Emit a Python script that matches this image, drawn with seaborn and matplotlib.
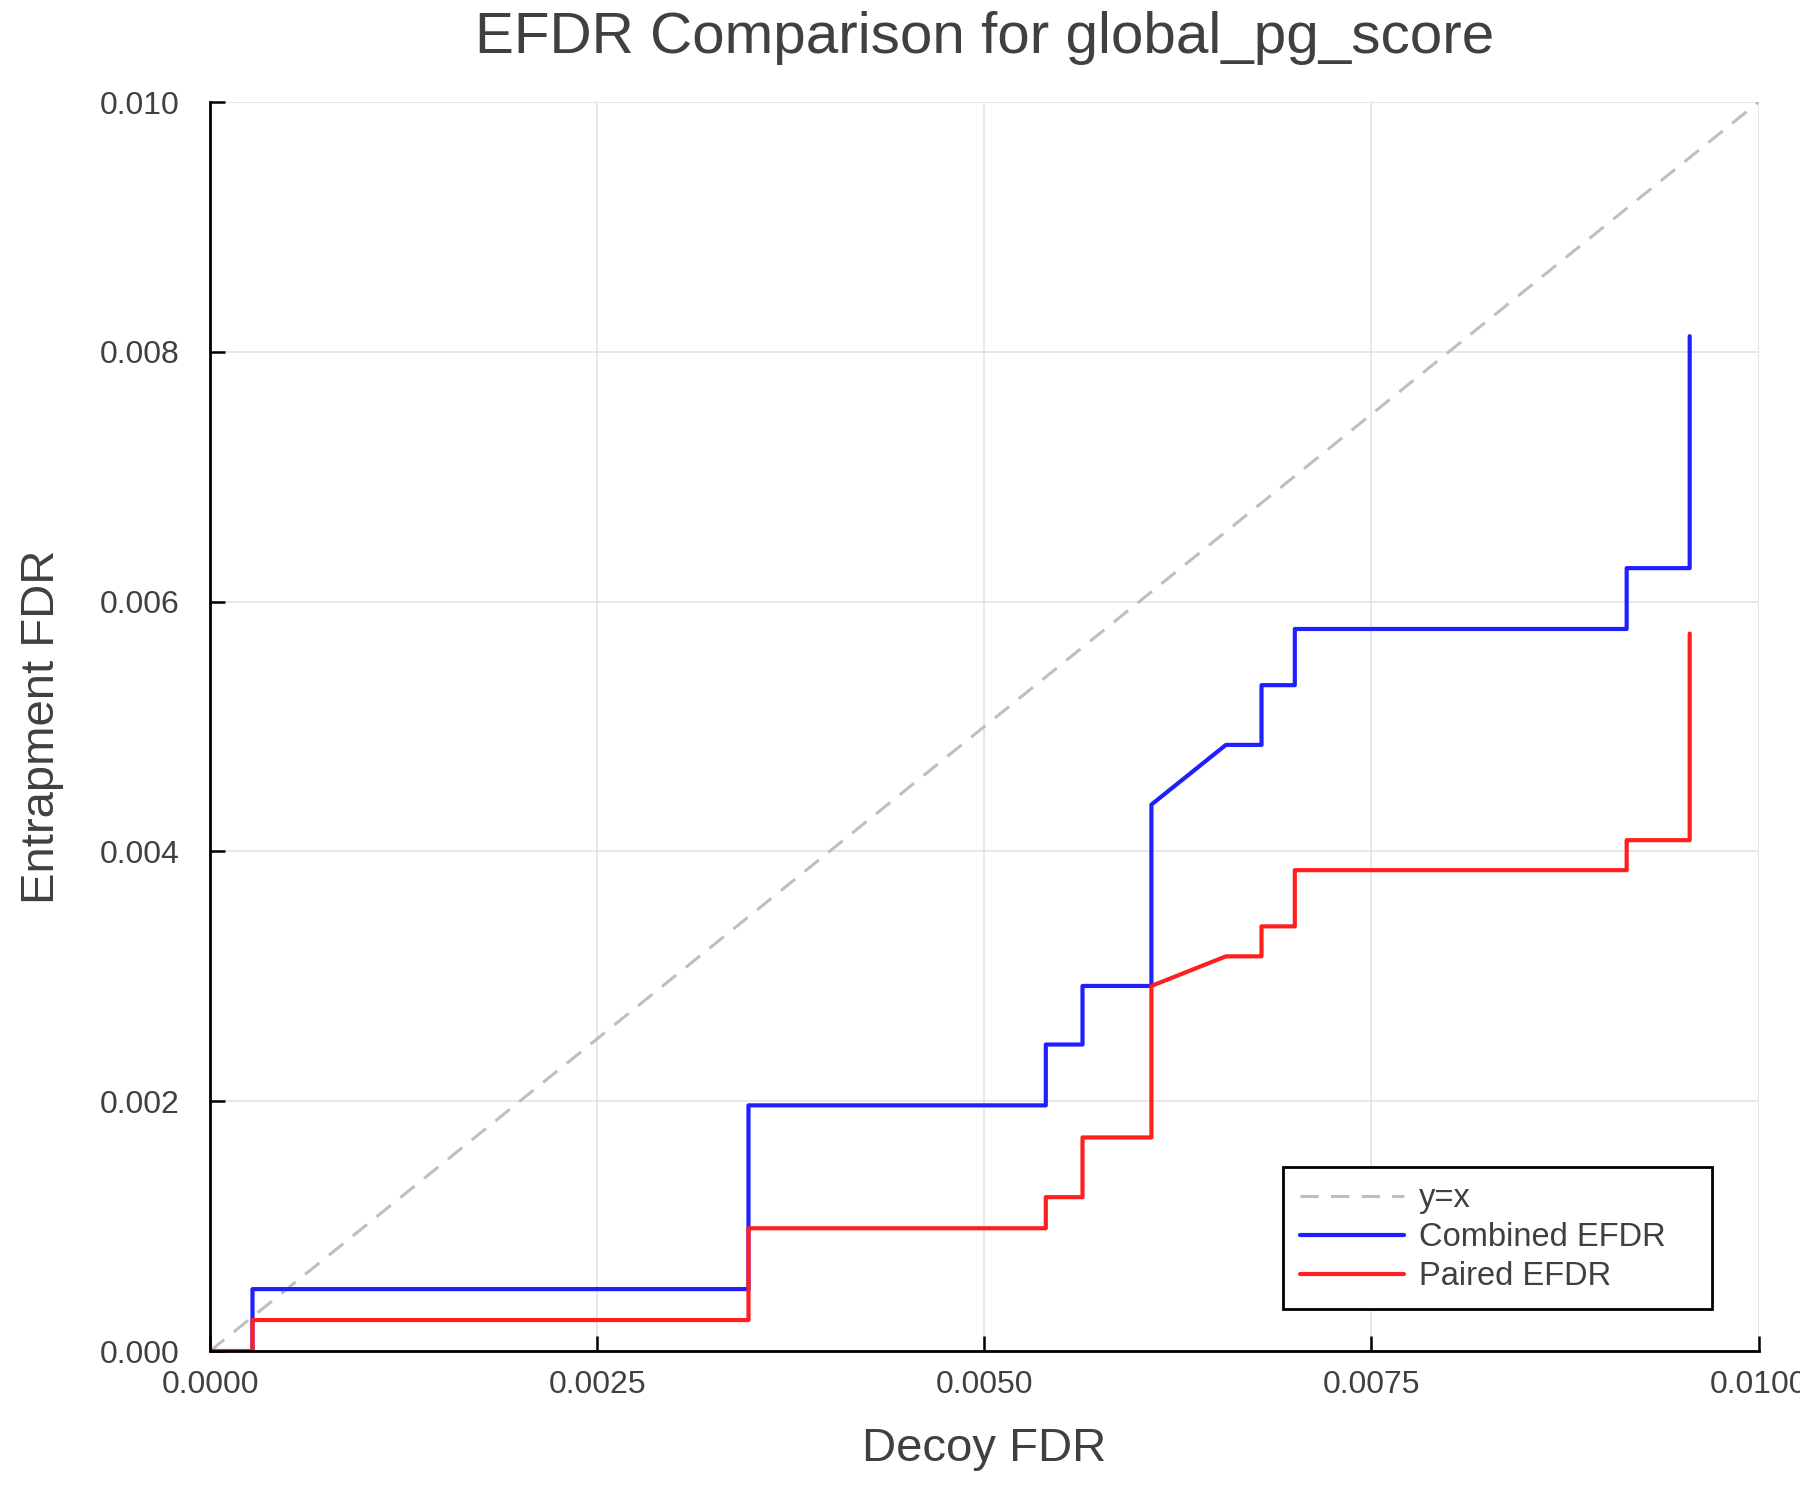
import matplotlib
matplotlib.use("Agg")
import matplotlib.pyplot as plt
import seaborn as sns
import pandas as pd
from matplotlib.ticker import FormatStrFormatter, FixedLocator

# ---- data ----
combined_x = [0.0, 0.000274, 0.000274, 0.003477, 0.003477, 0.005397, 0.005397,
              0.005634, 0.005634, 0.006079, 0.006079, 0.00656, 0.00679, 0.00679,
              0.007005, 0.007005, 0.009148, 0.009148, 0.009555, 0.009555]
combined_y = [0.0, 0.0, 0.000496, 0.000496, 0.001967, 0.001967, 0.002454,
              0.002454, 0.002923, 0.002923, 0.004375, 0.004853, 0.004853, 0.005331,
              0.005331, 0.005781, 0.005781, 0.006268, 0.006268, 0.008125]

paired_x = [0.0, 0.000274, 0.000274, 0.003477, 0.003477, 0.005397, 0.005397,
            0.005634, 0.005634, 0.006079, 0.006079, 0.00656, 0.00679, 0.00679,
            0.007005, 0.007005, 0.009148, 0.009148, 0.009555, 0.009555]
paired_y = [0.0, 0.0, 0.000248, 0.000248, 0.000983, 0.000983, 0.001232,
            0.001232, 0.00171, 0.00171, 0.002923, 0.00316, 0.00316, 0.0034,
            0.0034, 0.00385, 0.00385, 0.00409, 0.00409, 0.005744]

diag_x = [0.0, 0.01]
diag_y = [0.0, 0.01]

x_ticks = [0.0, 0.0025, 0.005, 0.0075, 0.01]
y_ticks = [0.0, 0.002, 0.004, 0.006, 0.008, 0.010]

title = "EFDR Comparison for global_pg_score"
xlabel = "Decoy FDR"
ylabel = "Entrapment FDR"

# ---- style ----
sns.set_theme(style="white")
plt.rcParams["font.family"] = ["Liberation Sans", "DejaVu Sans"]
TXT = "#404040"

fig = plt.figure(figsize=(18, 15), dpi=100)
ax = fig.add_axes([0.1167, 0.0993, 0.8603, 0.8327])

df_c = pd.DataFrame({"x": combined_x, "y": combined_y})
df_p = pd.DataFrame({"x": paired_x, "y": paired_y})
df_d = pd.DataFrame({"x": diag_x, "y": diag_y})

sns.lineplot(data=df_d, x="x", y="y", ax=ax, color="#bfbfbf", linewidth=2.2,
             linestyle=(0, (6, 4)), sort=False, estimator=None, label="y=x")
sns.lineplot(data=df_c, x="x", y="y", ax=ax, color="#1f1fff", linewidth=3.0,
             sort=False, estimator=None, label="Combined EFDR")
sns.lineplot(data=df_p, x="x", y="y", ax=ax, color="#ff1f1f", linewidth=3.0,
             sort=False, estimator=None, label="Paired EFDR")

ax.set_xlim(0, 0.01)
ax.set_ylim(0, 0.01)
ax.xaxis.set_major_locator(FixedLocator(x_ticks))
ax.yaxis.set_major_locator(FixedLocator(y_ticks))
ax.xaxis.set_major_formatter(FormatStrFormatter("%.4f"))
ax.yaxis.set_major_formatter(FormatStrFormatter("%.3f"))

ax.grid(True, color="#e4e4e4", lw=1.2)
ax.set_axisbelow(True)
for s in ["top", "right"]:
    ax.spines[s].set_visible(False)
for s in ["left", "bottom"]:
    ax.spines[s].set_color("black")
    ax.spines[s].set_linewidth(2.0)

ax.tick_params(axis="both", which="major", bottom=True, left=True,
               direction="in", length=11, width=1.8,
               color="black", labelcolor=TXT, labelsize=23)
ax.tick_params(axis="x", pad=14)
ax.tick_params(axis="y", pad=22)

ax.set_xlabel(xlabel, fontsize=34, color=TXT, labelpad=19)
ax.set_ylabel(ylabel, fontsize=34, color=TXT, labelpad=26)
ax.set_title(title, fontsize=42, color=TXT, pad=35)

leg = ax.legend(loc="lower left", bbox_to_anchor=(0.693, 0.034, 0.277, 0.121),
                mode="expand", fontsize=23.5, frameon=True, fancybox=False,
                edgecolor="black", framealpha=1.0, handlelength=3.2,
                labelspacing=0.25, borderpad=0.5, handletextpad=0.45,
                borderaxespad=0)
leg.get_frame().set_linewidth(2.0)
for t in leg.get_texts():
    t.set_color(TXT)

fig.savefig("out.png", dpi=100, facecolor="white")
